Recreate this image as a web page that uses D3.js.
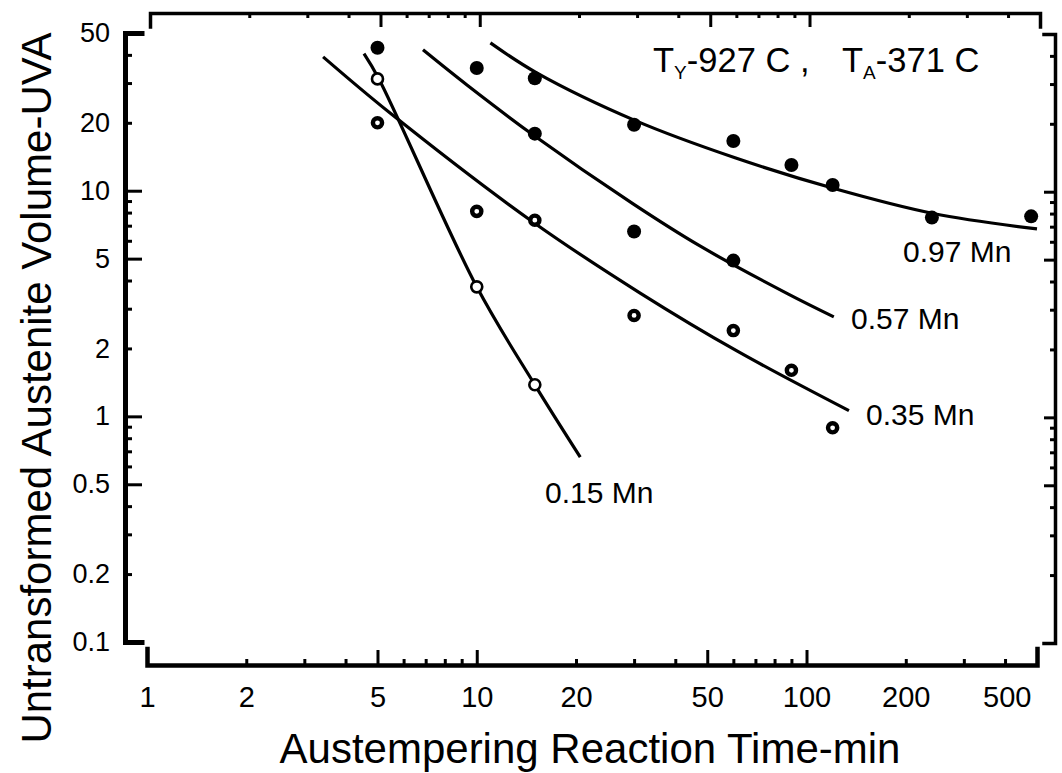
<!DOCTYPE html>
<html>
<head>
<meta charset="utf-8">
<script src="https://cdn.jsdelivr.net/npm/d3@7"></script>
<style>
  body { margin: 0; background: #fff; }
  svg { display: block; font-family: "Liberation Sans", Arial, sans-serif; }
  .axis path, .axis line { stroke: #000; }
  .axis text { fill: #000; font-family: "Liberation Sans", Arial, sans-serif; }
</style>
</head>
<body>
<div id="plot"></div>
<script>
  const w = 1062;
  const h = 773;

  // tick labels
  const xTickLabels = [1, 2, 5, 10, 20, 50, 100, 200, 500];
  const yTickLabels = [0.1, 0.2, 0.5, 1, 2, 5, 10, 20, 50];

  // measured points (time in min, UVA)
  const mn097Time = [5, 10, 15, 30, 60, 90, 120, 240, 480];
  const mn097Val = [43, 35, 31.5, 19.6, 16.6, 13, 10.6, 7.6, 7.7];
  const mn057Time = [15, 30, 60];
  const mn057Val = [17.9, 6.6, 4.9];
  const mn035Time = [5, 10, 15, 30, 60, 90, 120];
  const mn035Val = [20, 8.1, 7.4, 2.8, 2.4, 1.6, 0.89];
  const mn015Time = [5, 10, 15];
  const mn015Val = [31.3, 3.75, 1.38];

  // fitted curves
  const fit097Time = [11, 15.2, 30.4, 60.7, 122, 242, 500];
  const fit097Val = [45.2, 33.3, 20.4, 14, 10.2, 7.93, 6.77];
  const fit057Time = [6.87, 9.34, 14.8, 29.8, 47.5, 87.8, 121];
  const fit057Val = [42.1, 29.4, 17.7, 8.74, 5.69, 3.49, 2.76];
  const fit035Time = [3.42, 5.46, 14.8, 31.3, 61.5, 134.5];
  const fit035Val = [39.2, 22.1, 7.27, 3.52, 1.95, 1.06];
  const fit015Time = [4.55, 5.05, 10, 15, 20.6];
  const fit015Val = [40.5, 31.3, 3.75, 1.38, 0.66];

  const svg = d3.select("div#plot")
      .append("svg")
      .attr("width", w)
      .attr("height", h);

  svg.append("rect")
      .attr("width", w)
      .attr("height", h)
      .attr("fill", "white");

  const xScale = d3.scaleLog()
      .domain([1, 500])
      .range([147, 1037]);

  const yScale = d3.scaleLog()
      .domain([0.1, 50])
      .range([642, 33]);

  // major = 1 and 5 of each decade, minor = the rest
  const xMajor = [1, 5, 10, 50, 100, 500];
  const xMinor = d3.range(2, 10).filter(d => d !== 5)
      .flatMap(d => [d, d * 10, d * 100])
      .filter(d => d < 500);
  const yMajor = [0.1, 0.5, 1, 5, 10, 50];
  const yMinor = d3.range(2, 10).filter(d => d !== 5)
      .flatMap(d => [d / 10, d, d * 10])
      .filter(d => d < 50);

  function styleAxis(g, domainWidth) {
    g.attr("class", "axis");
    g.select(".domain")
        .attr("stroke-width", domainWidth)
        .attr("stroke-linejoin", "miter")
        .attr("stroke-linecap", "square");
    g.selectAll(".tick line").attr("stroke-width", 3);
  }

  // bottom axis
  const bottomAxis = svg.append("g")
      .attr("transform", "translate(0, 665)")
      .call(d3.axisBottom(xScale)
        .tickValues(xTickLabels)
        .tickSizeInner(0)
        .tickSizeOuter(-16)
        .tickPadding(21.5)
        .tickFormat(d3.format("d")));
  styleAxis(bottomAxis, 4.5);
  bottomAxis.selectAll("text").attr("font-size", 29);
  bottomAxis.selectAll("text").filter(d => d === 500)
      .attr("text-anchor", "end")
      .attr("dx", -6);

  svg.append("g")
      .attr("transform", "translate(0, 665)")
      .call(d3.axisBottom(xScale).tickValues(xMajor).tickSize(-15).tickFormat(""))
      .call(g => { styleAxis(g, 0); g.select(".domain").remove(); });
  svg.append("g")
      .attr("transform", "translate(0, 665)")
      .call(d3.axisBottom(xScale).tickValues(xMinor).tickSize(-6).tickFormat(""))
      .call(g => { styleAxis(g, 0); g.select(".domain").remove(); });

  // top axis
  const topAxis = svg.append("g")
      .attr("transform", "translate(3, 13)")
      .call(d3.axisTop(xScale).tickValues(xMajor).tickSizeInner(-14).tickSizeOuter(-14).tickFormat(""));
  styleAxis(topAxis, 3.5);
  svg.append("g")
      .attr("transform", "translate(3, 13)")
      .call(d3.axisTop(xScale).tickValues(xMinor).tickSize(-5).tickFormat(""))
      .call(g => { styleAxis(g, 0); g.select(".domain").remove(); });

  // left axis
  const leftAxis = svg.append("g")
      .attr("transform", "translate(125, 0)")
      .call(d3.axisLeft(yScale)
        .tickValues(yTickLabels)
        .tickSizeInner(0)
        .tickSizeOuter(-17)
        .tickPadding(15)
        .tickFormat(d => d < 1 ? d3.format(".1f")(d) : d3.format("d")(d)));
  styleAxis(leftAxis, 5);
  leftAxis.selectAll("text").attr("font-size", 27);

  svg.append("g")
      .attr("transform", "translate(125, 0)")
      .call(d3.axisLeft(yScale).tickValues(yMajor).tickSize(-17).tickFormat(""))
      .call(g => { styleAxis(g, 0); g.select(".domain").remove(); });
  svg.append("g")
      .attr("transform", "translate(125, 0)")
      .call(d3.axisLeft(yScale).tickValues(yMinor).tickSize(-7).tickFormat(""))
      .call(g => { styleAxis(g, 0); g.select(".domain").remove(); });

  // right axis
  const rightAxis = svg.append("g")
      .attr("transform", "translate(1055, 1)")
      .call(d3.axisRight(yScale).tickValues(yMajor).tickSizeInner(-11).tickSizeOuter(-11).tickFormat(""));
  styleAxis(rightAxis, 3.5);
  svg.append("g")
      .attr("transform", "translate(1055, 1)")
      .call(d3.axisRight(yScale).tickValues(yMinor).tickSize(-5).tickFormat(""))
      .call(g => { styleAxis(g, 0); g.select(".domain").remove(); });

  // fitted curves
  const line = d3.line()
      .x(d => xScale(d[0]))
      .y(d => yScale(d[1]))
      .curve(d3.curveCatmullRom.alpha(0.5));

  const fits = [
    d3.zip(fit097Time, fit097Val),
    d3.zip(fit057Time, fit057Val),
    d3.zip(fit035Time, fit035Val),
    d3.zip(fit015Time, fit015Val)
  ];

  svg.append("g")
    .selectAll("path")
      .data(fits)
    .enter().append("path")
      .attr("d", line)
      .attr("fill", "none")
      .attr("stroke", "black")
      .attr("stroke-width", 3.2);

  // markers
  const filled = d3.zip(mn097Time, mn097Val).concat(d3.zip(mn057Time, mn057Val));
  svg.append("g")
    .selectAll("circle")
      .data(filled)
    .enter().append("circle")
      .attr("cx", d => xScale(d[0]))
      .attr("cy", d => yScale(d[1]))
      .attr("r", 7)
      .attr("fill", "black");

  svg.append("g")
    .selectAll("circle")
      .data(d3.zip(mn035Time, mn035Val))
    .enter().append("circle")
      .attr("cx", d => xScale(d[0]))
      .attr("cy", d => yScale(d[1]))
      .attr("r", 4.6)
      .attr("fill", "white")
      .attr("stroke", "black")
      .attr("stroke-width", 4.4);

  svg.append("g")
    .selectAll("circle")
      .data(d3.zip(mn015Time, mn015Val))
    .enter().append("circle")
      .attr("cx", d => xScale(d[0]))
      .attr("cy", d => yScale(d[1]))
      .attr("r", 5.5)
      .attr("fill", "white")
      .attr("stroke", "black")
      .attr("stroke-width", 2.6);

  // curve labels
  const labels = [
    {text: "0.97 Mn", x: 903, y: 262},
    {text: "0.57 Mn", x: 851, y: 329},
    {text: "0.35 Mn", x: 866, y: 425},
    {text: "0.15 Mn", x: 545, y: 503}
  ];
  svg.append("g")
    .selectAll("text")
      .data(labels)
    .enter().append("text")
      .attr("x", d => d.x)
      .attr("y", d => d.y)
      .attr("font-size", 30)
      .text(d => d.text);

  // condition label
  const cond = svg.append("text")
      .attr("x", 653)
      .attr("y", 72)
      .attr("font-size", 34.5);
  cond.append("tspan").text("T");
  cond.append("tspan").attr("font-size", 19).attr("dy", 7).text("Y");
  cond.append("tspan").attr("dy", -7).text("-927 C ,");
  cond.append("tspan").attr("x", 842).text("T");
  cond.append("tspan").attr("font-size", 19).attr("dy", 7).text("A");
  cond.append("tspan").attr("dy", -7).text("-371 C");

  // axis titles
  svg.append("text")
      .attr("x", 590)
      .attr("y", 763)
      .attr("text-anchor", "middle")
      .attr("font-size", 42)
      .text("Austempering Reaction Time-min");

  svg.append("text")
      .attr("transform", "rotate(-90)")
      .attr("x", -388)
      .attr("y", 51)
      .attr("text-anchor", "middle")
      .attr("font-size", 42)
      .text("Untransformed Austenite Volume-UVA");
</script>
</body>
</html>
